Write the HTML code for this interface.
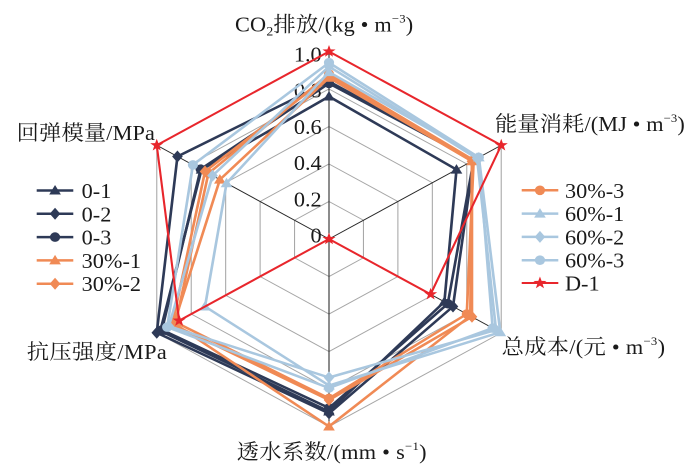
<!DOCTYPE html>
<html>
<head>
<meta charset="utf-8">
<style>
html,body{margin:0;padding:0;background:#fff;}
svg{display:block;}
text{font-family:"Liberation Serif","Noto Serif CJK SC",serif;fill:#1a1a1a;}
</style>
</head>
<body>
<svg width="700" height="466" viewBox="0 0 660 466" preserveAspectRatio="none" xmlns="http://www.w3.org/2000/svg">
<defs>
  <path id="tri" d="M0,-5.5 L5.5,4 L-5.5,4 Z"/>
  <path id="dia" d="M0,-6 L5,0 L0,6 L-5,0 Z"/>
  <circle id="cir" r="4.8"/>
  <path id="star" d="M0,-6.5 L1.53,-2.1 L6.18,-2.01 L2.47,0.8 L3.82,5.26 L0,2.6 L-3.82,5.26 L-2.47,0.8 L-6.18,-2.01 L-1.53,-2.1 Z"/>
</defs>

<!-- axis titles -->
<text x="221.6" y="31.5" font-size="21" textLength="168" >CO<tspan font-size="13" dy="4">2</tspan><tspan dy="-4">排放/(kg • m</tspan><tspan font-size="12" dy="-9">−3</tspan><tspan dy="9">)</tspan></text>
<text x="466.7" y="131" font-size="21" textLength="179">能量消耗/(MJ • m<tspan font-size="12" dy="-9">−3</tspan><tspan dy="9">)</tspan></text>
<text x="473" y="354" font-size="21" textLength="154">总成本/(元 • m<tspan font-size="12" dy="-9">−3</tspan><tspan dy="9">)</tspan></text>
<text x="223.2" y="459" font-size="21" textLength="179">透水系数/(mm • s<tspan font-size="12" dy="-9">−1</tspan><tspan dy="9">)</tspan></text>
<text x="25.2" y="359" font-size="21" textLength="132">抗压强度/MPa</text>
<text x="15.7" y="140" font-size="21" textLength="130.4">回弹模量/MPa</text>

<g transform="translate(310.2,239)">
  <!-- grid -->
  <g fill="none" stroke="#a6a6a6" stroke-width="1">
    <polygon points="0,-187.5 162.38,-93.75 162.38,93.75 0,187.5 -162.38,93.75 -162.38,-93.75"/>
    <polygon points="0,-150 129.9,-75 129.9,75 0,150 -129.9,75 -129.9,-75"/>
    <polygon points="0,-112.5 97.43,-56.25 97.43,56.25 0,112.5 -97.43,56.25 -97.43,-56.25"/>
    <polygon points="0,-75 64.95,-37.5 64.95,37.5 0,75 -64.95,37.5 -64.95,-37.5"/>
    <polygon points="0,-37.5 32.48,-18.75 32.48,18.75 0,37.5 -32.48,18.75 -32.48,-18.75"/>
  </g>
  <g stroke="#262626" stroke-width="1">
    <line x1="0" y1="0" x2="0" y2="-187.5"/>
    <line x1="0" y1="0" x2="162.38" y2="-93.75"/>
    <line x1="0" y1="0" x2="162.38" y2="93.75"/>
    <line x1="0" y1="0" x2="0" y2="187.5"/>
    <line x1="0" y1="0" x2="-162.38" y2="93.75"/>
    <line x1="0" y1="0" x2="-162.38" y2="-93.75"/>
  </g>
</g>

<!-- tick labels -->
<g font-size="21" text-anchor="end">
  <text x="303.3" y="61.5">1.0</text>
  <text x="303.3" y="97.7">0.8</text>
  <text x="303.3" y="133.9">0.6</text>
  <text x="303.3" y="170.1">0.4</text>
  <text x="303.3" y="206.3">0.2</text>
  <text x="303.3" y="242.5">0</text>
</g>

<g transform="translate(310.2,239)" fill="none" stroke-width="2.5" stroke-linejoin="round">
  <!-- 0-1 -->
  <polygon stroke="#2e3a57" points="0,-142.5 120.2,-69.4 108.8,62.8 0,172.5 -159.1,91.9 -120.2,-69.4"/>
  <g fill="#2e3a57" stroke="none">
    <use href="#tri" x="0" y="-142.5"/><use href="#tri" x="120.2" y="-69.4"/><use href="#tri" x="108.8" y="62.8"/><use href="#tri" x="0" y="172.5"/><use href="#tri" x="-159.1" y="91.9"/><use href="#tri" x="-120.2" y="-69.4"/>
  </g>
  <!-- 0-2 -->
  <polygon stroke="#2e3a57" points="0,-157.5 136.4,-78.8 116.9,67.5 0,174.4 -162.4,93.75 -142.9,-82.5"/>
  <g fill="#2e3a57" stroke="none">
    <use href="#dia" x="0" y="-157.5"/><use href="#dia" x="136.4" y="-78.8"/><use href="#dia" x="116.9" y="67.5"/><use href="#dia" x="0" y="174.4"/><use href="#dia" x="-162.4" y="93.75"/><use href="#dia" x="-142.9" y="-82.5"/>
  </g>
  <!-- 0-3 -->
  <polygon stroke="#2e3a57" points="0,-155.6 136.4,-78.8 112.0,64.7 0,169 -157.5,90.9 -121.0,-69.8"/>
  <g fill="#2e3a57" stroke="none">
    <use href="#cir" x="0" y="-155.6"/><use href="#cir" x="136.4" y="-78.8"/><use href="#cir" x="112.0" y="64.7"/><use href="#cir" x="0" y="169"/><use href="#cir" x="-157.5" y="90.9"/><use href="#cir" x="-121.0" y="-69.8"/>
  </g>
  <!-- 30%-1 -->
  <polygon stroke="#f08a55" points="0,-161.3 134.8,-77.8 133.2,76.9 0,187.5 -146.1,84.4 -102.9,-59.4"/>
  <g fill="#f08a55" stroke="none">
    <use href="#tri" x="0" y="-161.3"/><use href="#tri" x="134.8" y="-77.8"/><use href="#tri" x="133.2" y="76.9"/><use href="#tri" x="0" y="187.5"/><use href="#tri" x="-146.1" y="84.4"/><use href="#tri" x="-102.9" y="-59.4"/>
  </g>
  <!-- 30%-2 -->
  <polygon stroke="#f08a55" points="0,-163.1 134.8,-77.8 134.8,77.8 0,161 -147.8,85.3 -116.9,-67.5"/>
  <g fill="#f08a55" stroke="none">
    <use href="#dia" x="0" y="-163.1"/><use href="#dia" x="134.8" y="-77.8"/><use href="#dia" x="134.8" y="77.8"/><use href="#dia" x="0" y="161"/><use href="#dia" x="-147.8" y="85.3"/><use href="#dia" x="-116.9" y="-67.5"/>
  </g>
  <!-- 30%-3 -->
  <polygon stroke="#f08a55" points="0,-165 136.4,-78.8 129.9,75 0,159.4 -144.5,83.4 -113.7,-65.6"/>
  <g fill="#f08a55" stroke="none">
    <use href="#cir" x="0" y="-165"/><use href="#cir" x="136.4" y="-78.8"/><use href="#cir" x="129.9" y="75"/><use href="#cir" x="0" y="159.4"/><use href="#cir" x="-144.5" y="83.4"/><use href="#cir" x="-113.7" y="-65.6"/>
  </g>
  <!-- 60%-1 -->
  <polygon stroke="#a9c7df" points="0,-166.9 141.3,-81.6 161.5,93.2 0,146.5 -116.9,67.5 -96.6,-55.8"/>
  <g fill="#a9c7df" stroke="none">
    <use href="#tri" x="0" y="-166.9"/><use href="#tri" x="141.3" y="-81.6"/><use href="#tri" x="161.5" y="93.2"/><use href="#tri" x="0" y="146.5"/><use href="#tri" x="-116.9" y="67.5"/><use href="#tri" x="-96.6" y="-55.8"/>
  </g>
  <!-- 60%-2 -->
  <polygon stroke="#a9c7df" points="0,-172.5 139.6,-80.6 157.5,90.9 0,138.5 -151.0,87.2 -109.8,-63.4"/>
  <g fill="#a9c7df" stroke="none">
    <use href="#dia" x="0" y="-172.5"/><use href="#dia" x="139.6" y="-80.6"/><use href="#dia" x="157.5" y="90.9"/><use href="#dia" x="0" y="138.5"/><use href="#dia" x="-151.0" y="87.2"/><use href="#dia" x="-109.8" y="-63.4"/>
  </g>
  <!-- 60%-3 -->
  <polygon stroke="#a9c7df" points="0,-176.3 141.3,-81.6 154.3,89.1 0,149 -152.6,88.1 -128.3,-74.1"/>
  <g fill="#a9c7df" stroke="none">
    <use href="#cir" x="0" y="-176.3"/><use href="#cir" x="141.3" y="-81.6"/><use href="#cir" x="154.3" y="89.1"/><use href="#cir" x="0" y="149"/><use href="#cir" x="-152.6" y="88.1"/><use href="#cir" x="-128.3" y="-74.1"/>
  </g>
  <!-- D-1 -->
  <polygon stroke="#e8262c" stroke-width="2" points="0,-187.5 162.4,-93.75 95.8,55.3 0,0 -141.3,81.6 -162.4,-93.75"/>
  <g fill="#e8262c" stroke="none">
    <use href="#star" x="0" y="-187.5"/><use href="#star" x="162.4" y="-93.75"/><use href="#star" x="95.8" y="55.3"/><use href="#star" x="0" y="0"/><use href="#star" x="-141.3" y="81.6"/><use href="#star" x="-162.4" y="-93.75"/>
  </g>
</g>

<!-- left legend -->
<g stroke-width="2.5">
  <line x1="34.6" y1="190.5" x2="69.1" y2="190.5" stroke="#2e3a57"/>
  <line x1="34.6" y1="213.8" x2="69.1" y2="213.8" stroke="#2e3a57"/>
  <line x1="34.6" y1="237.1" x2="69.1" y2="237.1" stroke="#2e3a57"/>
  <line x1="34.6" y1="260.4" x2="69.1" y2="260.4" stroke="#f08a55"/>
  <line x1="34.6" y1="283.7" x2="69.1" y2="283.7" stroke="#f08a55"/>
</g>
<use href="#tri" x="51.9" y="190.5" fill="#2e3a57"/>
<use href="#dia" x="51.9" y="213.8" fill="#2e3a57"/>
<use href="#cir" x="51.9" y="237.1" fill="#2e3a57"/>
<use href="#tri" x="51.9" y="260.4" fill="#f08a55"/>
<use href="#dia" x="51.9" y="283.7" fill="#f08a55"/>
<g font-size="21">
  <text x="77" y="198">0-1</text>
  <text x="77" y="221.3">0-2</text>
  <text x="77" y="244.6">0-3</text>
  <text x="77" y="267.9">30%-1</text>
  <text x="77" y="291.2">30%-2</text>
</g>

<!-- right legend -->
<g stroke-width="2.5">
  <line x1="491.9" y1="190.3" x2="526.4" y2="190.3" stroke="#f08a55"/>
  <line x1="491.9" y1="213.6" x2="526.4" y2="213.6" stroke="#a9c7df"/>
  <line x1="491.9" y1="236.9" x2="526.4" y2="236.9" stroke="#a9c7df"/>
  <line x1="491.9" y1="260.2" x2="526.4" y2="260.2" stroke="#a9c7df"/>
  <line x1="491.9" y1="283.0" x2="526.4" y2="283.0" stroke="#e8262c" stroke-width="2"/>
</g>
<use href="#cir" x="509.1" y="190.3" fill="#f08a55"/>
<use href="#tri" x="509.1" y="213.6" fill="#a9c7df"/>
<use href="#dia" x="509.1" y="236.9" fill="#a9c7df"/>
<use href="#cir" x="509.1" y="260.2" fill="#a9c7df"/>
<use href="#star" x="509.1" y="283.0" fill="#e8262c"/>
<g font-size="21">
  <text x="532.7" y="197.8">30%-3</text>
  <text x="532.7" y="221.1">60%-1</text>
  <text x="532.7" y="244.4">60%-2</text>
  <text x="532.7" y="267.7">60%-3</text>
  <text x="532.7" y="290.5">D-1</text>
</g>
</svg>
</body>
</html>
